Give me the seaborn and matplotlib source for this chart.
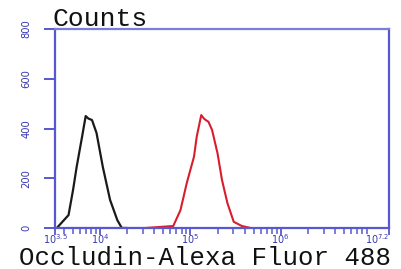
import numpy as np
import pandas as pd
import matplotlib
matplotlib.use("Agg")
import matplotlib.pyplot as plt
import seaborn as sns
from matplotlib.ticker import FixedLocator, LogLocator, NullFormatter

sns.set_theme(style="white")

# black (control) histogram: log10 fluorescence, counts
black_log = [3.52, 3.65, 3.70, 3.74, 3.80, 3.84, 3.87, 3.91, 3.96, 4.03, 4.11, 4.19, 4.24, 4.30]
black_cnt = [0, 52, 153, 246, 367, 450, 440, 434, 382, 245, 113, 32, 0, 0]

# red (Occludin) histogram
red_log = [3.67, 4.50, 4.81, 4.89, 4.96, 5.04, 5.07, 5.12, 5.15, 5.17, 5.20, 5.24, 5.30, 5.35, 5.41, 5.48, 5.57, 5.67]
red_cnt = [0, 0, 8, 72, 181, 287, 367, 454, 440, 434, 427, 394, 301, 193, 100, 25, 8, 0]

y_ticks = [0, 200, 400, 600, 800]
x_tick_exps = [3.5, 4, 5, 6, 7.2]
x_tick_labels = [r"$10^{3.5}$", r"$10^{4}$", r"$10^{5}$", r"$10^{6}$", r"$10^{7.2}$"]

df_black = pd.DataFrame({"x": 10 ** np.array(black_log), "count": black_cnt})
df_red = pd.DataFrame({"x": 10 ** np.array(red_log), "count": red_cnt})

W, H = 401, 269
fig = plt.figure(figsize=(W / 100, H / 100), dpi=100)
fig.patch.set_facecolor("white")
ax = fig.add_axes([55 / W, 1 - 228 / H, (389 - 55) / W, (228 - 29) / H])
ax.set_facecolor("white")

sns.lineplot(data=df_black, x="x", y="count", ax=ax, color="#1a1a1a", lw=1.6, sort=False)
sns.lineplot(data=df_red, x="x", y="count", ax=ax, color="#d81e2c", lw=1.5, sort=False)

ax.set_xscale("log")
ax.set_xlim(10 ** 3.5, 10 ** 7.2)
ax.set_ylim(0, 800)

spine_c = "#5858d0"
for s in ax.spines.values():
    s.set_color(spine_c)
    s.set_linewidth(1.6)
ax.spines["top"].set_color("#7c7cdc")

ax.yaxis.set_major_locator(FixedLocator(y_ticks))
ax.set_yticklabels([str(v) for v in y_ticks], rotation=90, va="center",
                   fontsize=8, color="#3838b0", fontstretch="condensed")
ax.tick_params(axis="y", direction="out", length=8, width=1.4, color=spine_c, pad=9, left=True)

ax.xaxis.set_major_locator(FixedLocator([10 ** e for e in x_tick_exps]))
ax.set_xticklabels(x_tick_labels, fontsize=7, color="#3838b0")
xl = ax.get_xticklabels()
xl[-1].set_horizontalalignment("right")
ax.xaxis.set_minor_locator(LogLocator(base=10, subs=np.arange(2, 10)))
ax.xaxis.set_minor_formatter(NullFormatter())
ax.tick_params(axis="x", which="major", direction="out", length=5, width=1.3, color=spine_c, pad=-2, bottom=True)
ax.tick_params(axis="x", which="minor", direction="out", length=4, width=1.1, color=spine_c, bottom=True)

ax.set_xlabel("")
ax.set_ylabel("")

fig.text(52 / W, 1 - 26 / H, "Counts", fontsize=19, family="Liberation Mono",
         color="#111111", ha="left", va="baseline")
fig.text(205 / W, 1 - 265 / H, "Occludin-Alexa Fluor 488", fontsize=18.5,
         family="Liberation Mono", color="#111111", ha="center", va="baseline")

fig.savefig("out.png", dpi=100, facecolor="white")
